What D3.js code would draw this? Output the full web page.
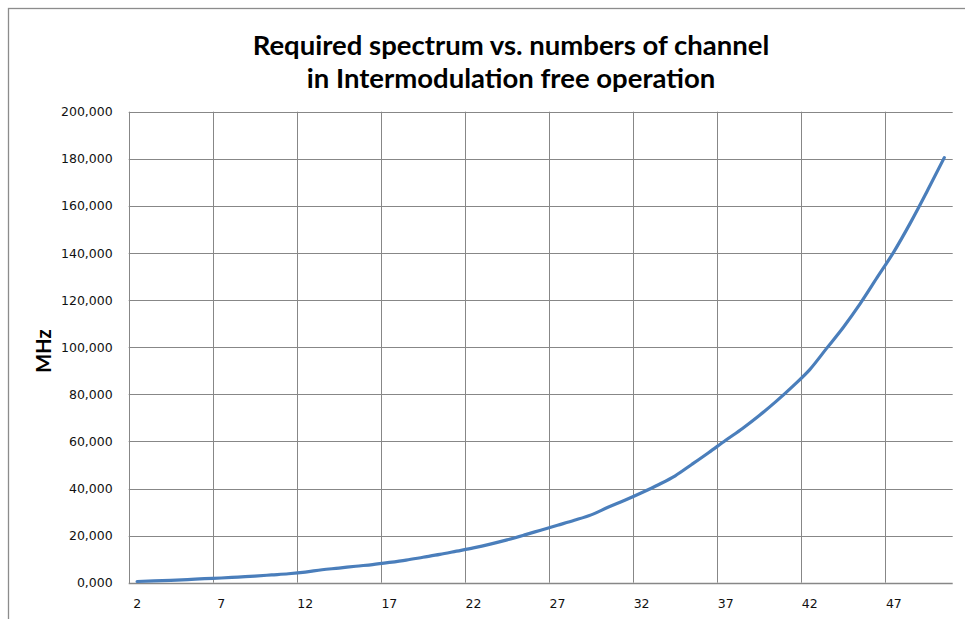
<!DOCTYPE html>
<html>
<head>
<meta charset="utf-8">
<script src="https://cdn.jsdelivr.net/npm/d3@7"></script>
<style>
  html, body { margin: 0; padding: 0; background: #fff; }
  svg { display: block; }
</style>
</head>
<body>
<svg id="chart" width="965" height="619"></svg>
<script>
// ---- data ----
const channels = d3.range(2, 51); // categories 2 .. 50
const spectrum = [
  0.5, 0.8, 1.0, 1.3, 1.7, 2.0, 2.4, 2.8, 3.3, 3.8,
  4.5, 5.5, 6.2, 7.0, 7.7, 8.6, 9.6, 10.8, 12.0, 13.4,
  14.8, 16.4, 18.2, 20.2, 22.3, 24.4, 26.5, 28.8, 32.0, 35.0,
  38.2, 41.6, 45.4, 50.3, 55.3, 60.5, 65.5, 71.0, 77.0, 83.5,
  90.5, 99.5, 108.5, 118.5, 129.5, 140.5, 153.0, 166.5, 180.5
];
const yTickValues = [0, 20, 40, 60, 80, 100, 120, 140, 160, 180, 200];
const yTickLabels = ["0,000", "20,000", "40,000", "60,000", "80,000", "100,000",
                     "120,000", "140,000", "160,000", "180,000", "200,000"];
const xTickLabels = [2, 7, 12, 17, 22, 27, 32, 37, 42, 47];
const titleLines = ["Required spectrum vs. numbers of channel",
                    "in Intermodulation free operation"];
const yTitle = "MHz";

// ---- layout ----
const W = 965, H = 619;
const plot = { left: 128.7, right: 952.7, top: 111.7, bottom: 582.7 };
const gridColor = "#878787";
const lineColor = "#4A7EBB";

const svg = d3.select("#chart");

// chart-area border (only top/left visible in frame)
svg.append("rect")
  .attr("x", 8.5).attr("y", 8.5)
  .attr("width", W + 20).attr("height", H + 20)
  .attr("fill", "#fff")
  .attr("stroke", "#8c8c8c").attr("stroke-width", 1.3);

const x = d3.scaleBand().domain(channels).range([plot.left, plot.right]).padding(0);
const y = d3.scaleLinear().domain([0, 200]).range([plot.bottom, plot.top]);

// horizontal gridlines
svg.append("g").selectAll("line")
  .data(yTickValues.filter(v => v > 0))
  .join("line")
  .attr("x1", plot.left).attr("x2", plot.right)
  .attr("y1", d => Math.round(y(d)) + 0.5).attr("y2", d => Math.round(y(d)) + 0.5)
  .attr("stroke", gridColor).attr("stroke-width", 1);

// vertical gridlines at the start of each labelled category band
svg.append("g").selectAll("line")
  .data(xTickLabels.filter(c => c !== channels[0]))
  .join("line")
  .attr("x1", d => Math.round(x(d)) + 0.5).attr("x2", d => Math.round(x(d)) + 0.5)
  .attr("y1", plot.top).attr("y2", plot.bottom)
  .attr("stroke", gridColor).attr("stroke-width", 1);

// axes lines
svg.append("line")
  .attr("x1", Math.round(plot.left) + 0.5).attr("x2", Math.round(plot.left) + 0.5)
  .attr("y1", plot.top).attr("y2", plot.bottom + 0.5)
  .attr("stroke", gridColor).attr("stroke-width", 1);
svg.append("line")
  .attr("x1", plot.left).attr("x2", plot.right)
  .attr("y1", Math.round(plot.bottom) + 0.5).attr("y2", Math.round(plot.bottom) + 0.5)
  .attr("stroke", gridColor).attr("stroke-width", 1.5);

// y axis labels
const yAxis = d3.axisLeft(y)
  .tickValues(yTickValues)
  .tickSize(0)
  .tickPadding(16)
  .tickFormat((d, i) => yTickLabels[i]);
const gy = svg.append("g")
  .attr("transform", `translate(${plot.left},0)`)
  .call(yAxis);
gy.select(".domain").remove();
gy.selectAll("text")
  .attr("font-family", "'DejaVu Sans', Verdana, sans-serif")
  .attr("font-size", 12.5)
  .attr("fill", "#111");

// x axis labels
const xAxis = d3.axisBottom(x)
  .tickValues(xTickLabels)
  .tickSize(0)
  .tickPadding(16);
const gx = svg.append("g")
  .attr("transform", `translate(0,${plot.bottom})`)
  .call(xAxis);
gx.select(".domain").remove();
gx.selectAll("text")
  .attr("font-family", "'DejaVu Sans', Verdana, sans-serif")
  .attr("font-size", 12.5)
  .attr("fill", "#111");

// data line
const line = d3.line()
  .x((d, i) => x(channels[i]) + x.bandwidth() / 2)
  .y(d => y(d))
  .curve(d3.curveMonotoneX);
svg.append("path")
  .datum(spectrum)
  .attr("d", line)
  .attr("fill", "none")
  .attr("stroke", lineColor)
  .attr("stroke-width", 3.2)
  .attr("stroke-linejoin", "round")
  .attr("stroke-linecap", "round");

// title
svg.append("g").selectAll("text")
  .data(titleLines)
  .join("text")
  .attr("x", 511)
  .attr("y", (d, i) => 55 + i * 33)
  .attr("text-anchor", "middle")
  .attr("font-family", "Lato, 'Open Sans', sans-serif")
  .attr("font-weight", "bold")
  .attr("font-size", 27.5)
  .attr("fill", "#000")
  .text(d => d);

// y axis title
svg.append("text")
  .attr("transform", "translate(51,351) rotate(-90)")
  .attr("text-anchor", "middle")
  .attr("font-family", "Lato, 'Open Sans', sans-serif")
  .attr("font-weight", "bold")
  .attr("font-size", 20)
  .attr("fill", "#000")
  .text(yTitle);
</script>
</body>
</html>
